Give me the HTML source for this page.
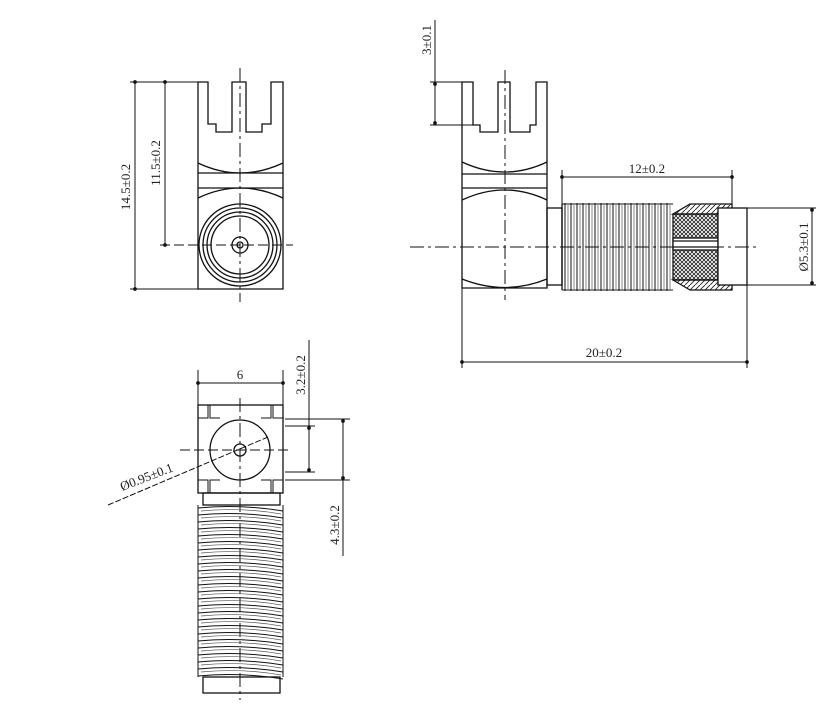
<!DOCTYPE html>
<html><head><meta charset="utf-8"><style>
html,body{margin:0;padding:0;background:#fff;}
svg{display:block}
text{font-family:"Liberation Serif",serif;font-size:13px;fill:#222}
</style></head><body>
<svg width="836" height="704" viewBox="0 0 836 704" xmlns="http://www.w3.org/2000/svg">
<defs>
<pattern id="xh" width="4" height="4" patternUnits="userSpaceOnUse"><path d="M0,0L4,4M4,0L0,4" stroke="#222" stroke-width="0.8"/></pattern>
<pattern id="dh" width="5" height="5" patternUnits="userSpaceOnUse"><path d="M0,5L5,0" stroke="#222" stroke-width="0.9"/></pattern>
<marker id="ar" viewBox="0 0 6 6" refX="3" refY="3" markerWidth="5" markerHeight="5" orient="auto"><circle cx="3" cy="3" r="2.2" fill="#111"/></marker>
</defs>
<g fill="none" stroke="#111" stroke-width="1.3">
<!-- VIEW 1 -->
<path d="M198,82V289H283V82H271V124H262V132H246V82H232V132H216V124H208V82Z"/>
<line x1="198" y1="173" x2="283" y2="173"/><line x1="198" y1="188" x2="283" y2="188"/>
<path d="M198,163Q240,183 283,163"/><path d="M198,198Q240,178 283,198"/>
<circle cx="240" cy="245" r="41"/><circle cx="240" cy="245" r="37"/><circle cx="240" cy="245" r="33"/><circle cx="240" cy="245" r="29"/>
<circle cx="240" cy="245" r="8"/><circle cx="240" cy="245" r="3"/>
<line x1="240" y1="68" x2="240" y2="302" stroke-dasharray="14,4,3,4" stroke-width="1"/>
<line x1="160" y1="245" x2="293" y2="245" stroke-dasharray="10,4" stroke-width="1"/>
<line x1="130" y1="82" x2="198" y2="82" stroke-width="1"/><line x1="130" y1="289" x2="198" y2="289" stroke-width="1"/>
<line x1="135" y1="82" x2="135" y2="289" stroke-width="1" marker-start="url(#ar)" marker-end="url(#ar)"/>
<line x1="165" y1="82" x2="165" y2="245" stroke-width="1" marker-start="url(#ar)" marker-end="url(#ar)"/>
<!-- VIEW 2 -->
<path d="M462,82V288H547V82H536V125H530V132H510V82H498V132H480V125H473V82Z"/>
<line x1="462" y1="174" x2="547" y2="174"/><line x1="462" y1="188" x2="547" y2="188"/>
<path d="M462,162Q505,182 547,162"/><path d="M462,200Q505,180 547,200"/><path d="M462,279Q505,296 547,279"/>
<line x1="505" y1="70" x2="505" y2="300" stroke-dasharray="14,4,3,4" stroke-width="1"/>
<rect x="547" y="208" width="15" height="77"/>
<rect x="673" y="214" width="45" height="66" fill="url(#xh)"/>
<rect x="673" y="238" width="45" height="12" fill="#fff"/>
<line x1="673" y1="241" x2="718" y2="241"/><line x1="673" y1="247" x2="718" y2="247"/>
<path d="M673,214L690,204H732V214Z" fill="url(#dh)"/><path d="M673,280L690,290H732V280Z" fill="url(#dh)"/>
<rect x="718" y="208" width="29" height="77" fill="#fff"/>
<g stroke-width="1">
<path d="M562,204H673M562,290H673"/>
<path d="M565,203V291M571,203V291M577,203V291M583,203V291M589,203V291M595,203V291M601,203V291M607,203V291M613,203V291M619,203V291M625,203V291M631,203V291M637,203V291M643,203V291M649,203V291M655,203V291M661,203V291M667,203V291"/>
<path d="M568,205V289M574,205V289M580,205V289M586,205V289M592,205V289M598,205V289M604,205V289M610,205V289M616,205V289M622,205V289M628,205V289M634,205V289M640,205V289M646,205V289M652,205V289M658,205V289M664,205V289M670,205V289" stroke="#555" stroke-width="0.7"/>
</g>
<line x1="562" y1="204" x2="562" y2="290"/>
<line x1="410" y1="247" x2="760" y2="247" stroke-dasharray="14,4,3,4" stroke-width="1"/>
<line x1="562" y1="170" x2="562" y2="204" stroke-width="1"/><line x1="732" y1="170" x2="732" y2="204" stroke-width="1"/>
<line x1="562" y1="177" x2="732" y2="177" stroke-width="1" marker-start="url(#ar)" marker-end="url(#ar)"/>
<line x1="462" y1="288" x2="462" y2="368" stroke-width="1"/><line x1="747" y1="285" x2="747" y2="368" stroke-width="1"/>
<line x1="462" y1="362" x2="747" y2="362" stroke-width="1" marker-start="url(#ar)" marker-end="url(#ar)"/>
<line x1="430" y1="82" x2="462" y2="82" stroke-width="1"/><line x1="430" y1="125" x2="473" y2="125" stroke-width="1"/>
<line x1="435" y1="20" x2="435" y2="125" stroke-width="1"/>
<line x1="435" y1="84" x2="435" y2="123" stroke-width="1" marker-start="url(#ar)" marker-end="url(#ar)"/>
<line x1="747" y1="208" x2="816" y2="208" stroke-width="1"/><line x1="747" y1="285" x2="816" y2="285" stroke-width="1"/>
<line x1="812" y1="210" x2="812" y2="283" stroke-width="1" marker-start="url(#ar)" marker-end="url(#ar)"/>
<!-- VIEW 3 -->
<rect x="198" y="405" width="85" height="88"/>
<path d="M198,418H208V405M210,405V418H220" stroke-width="1"/>
<path d="M283,418H273V405M271,405V418H261" stroke-width="1"/>
<path d="M198,480H208V493M210,493V480H220" stroke-width="1"/>
<path d="M283,480H273V493M271,493V480H261" stroke-width="1"/>
<circle cx="240" cy="450" r="30"/><circle cx="240" cy="450" r="6"/>
<line x1="240" y1="398" x2="240" y2="700" stroke-dasharray="14,4,3,4" stroke-width="1"/>
<line x1="180" y1="450" x2="292" y2="450" stroke-dasharray="10,4" stroke-width="1"/>
<rect x="203" y="493" width="77" height="12"/>
<g stroke-width="1">
<path d="M198,505V677M283,505V677"/>
<path d="M198,508q42,-4 85,3M198,515q42,-4 85,3M198,522q42,-4 85,3M198,529q42,-4 85,3M198,536q42,-4 85,3M198,543q42,-4 85,3M198,550q42,-4 85,3M198,557q42,-4 85,3M198,564q42,-4 85,3M198,571q42,-4 85,3M198,578q42,-4 85,3M198,585q42,-4 85,3M198,592q42,-4 85,3M198,599q42,-4 85,3M198,606q42,-4 85,3M198,613q42,-4 85,3M198,620q42,-4 85,3M198,627q42,-4 85,3M198,634q42,-4 85,3M198,641q42,-4 85,3M198,648q42,-4 85,3M198,655q42,-4 85,3M198,662q42,-4 85,3M198,669q42,-4 85,3M198,676q42,-4 85,3"/>
<path d="M201,511q40,-4 80,3M201,518q40,-4 80,3M201,525q40,-4 80,3M201,532q40,-4 80,3M201,539q40,-4 80,3M201,546q40,-4 80,3M201,553q40,-4 80,3M201,560q40,-4 80,3M201,567q40,-4 80,3M201,574q40,-4 80,3M201,581q40,-4 80,3M201,588q40,-4 80,3M201,595q40,-4 80,3M201,602q40,-4 80,3M201,609q40,-4 80,3M201,616q40,-4 80,3M201,623q40,-4 80,3M201,630q40,-4 80,3M201,637q40,-4 80,3M201,644q40,-4 80,3M201,651q40,-4 80,3M201,658q40,-4 80,3M201,665q40,-4 80,3M201,672q40,-4 80,3" stroke="#555" stroke-width="0.7"/>
</g>
<rect x="203" y="677" width="77" height="16"/>
<line x1="198" y1="370" x2="198" y2="405" stroke-width="1"/><line x1="283" y1="370" x2="283" y2="405" stroke-width="1"/>
<line x1="198" y1="383" x2="283" y2="383" stroke-width="1" marker-start="url(#ar)" marker-end="url(#ar)"/>
<line x1="285" y1="419" x2="350" y2="419" stroke-width="1"/><line x1="285" y1="480" x2="350" y2="480" stroke-width="1"/>
<line x1="285" y1="426" x2="315" y2="426" stroke-width="1"/><line x1="285" y1="472" x2="315" y2="472" stroke-width="1"/>
<line x1="309" y1="340" x2="309" y2="472" stroke-width="1"/>
<line x1="309" y1="428" x2="309" y2="470" stroke-width="1" marker-start="url(#ar)" marker-end="url(#ar)"/>
<line x1="343" y1="421" x2="343" y2="478" stroke-width="1" marker-start="url(#ar)" marker-end="url(#ar)"/>
<line x1="343" y1="478" x2="343" y2="556" stroke-width="1"/>
<line x1="108" y1="505" x2="268" y2="437" stroke-width="1" stroke-dasharray="6,2"/>
</g>
<text transform="translate(130,187) rotate(-90)" text-anchor="middle">14.5±0.2</text>
<text transform="translate(160,163) rotate(-90)" text-anchor="middle">11.5±0.2</text>
<text transform="translate(431,40) rotate(-90)" text-anchor="middle">3±0.1</text>
<text x="647" y="173" text-anchor="middle">12±0.2</text>
<text x="604" y="357" text-anchor="middle">20±0.2</text>
<text transform="translate(808,247) rotate(-90)" text-anchor="middle">Ø5.3±0.1</text>
<text x="240" y="379" text-anchor="middle">6</text>
<text transform="translate(305,375) rotate(-90)" text-anchor="middle">3.2±0.2</text>
<text transform="translate(339,525) rotate(-90)" text-anchor="middle">4.3±0.2</text>
<text transform="translate(148,481) rotate(-21)" text-anchor="middle">Ø0.95±0.1</text>
</svg>
</body></html>
